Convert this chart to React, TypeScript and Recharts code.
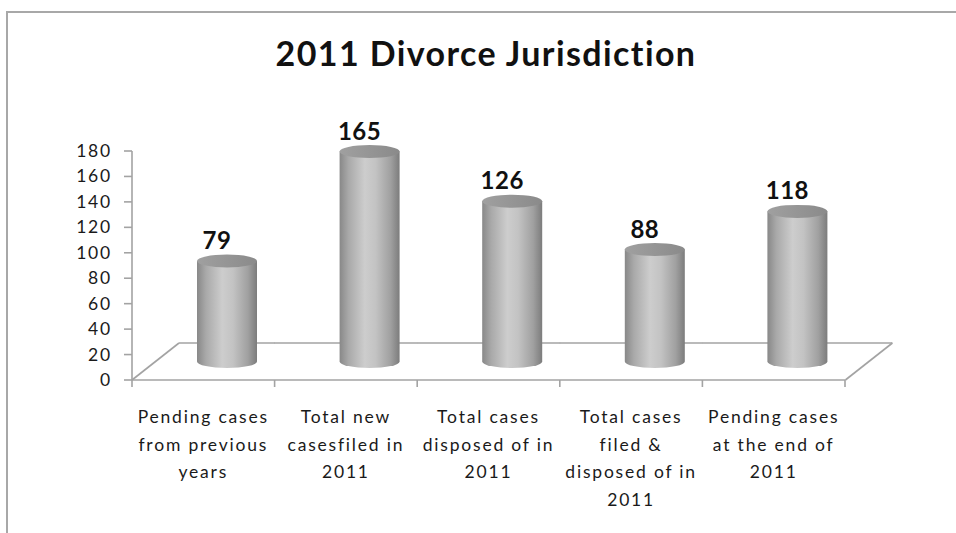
import React from 'react';
import { BarChart, Bar, XAxis, YAxis, LabelList } from 'recharts';

const title = '2011 Divorce Jurisdiction';
const categories = [
  'Pending cases\nfrom previous\nyears',
  'Total new\ncasesfiled in\n2011',
  'Total cases\ndisposed of in\n2011',
  'Total cases\nfiled &\ndisposed of in\n2011',
  'Pending cases\nat the end of\n2011',
];
const values = [79, 165, 126, 88, 118];
const yTicks = [0, 20, 40, 60, 80, 100, 120, 140, 160, 180];

const data = categories.map((name, i) => ({ name, value: values[i] }));

const AXIS = '#a3a3a3';
const DX = 47;
const DY = 37;
const FONT = 'Lato, "Open Sans", sans-serif';

const Cylinder = (props: any) => {
  const { x, y, width, height, index } = props;
  const base = y + height;
  const cx = x + width / 2 + DX / 2;
  const rx = 30;
  const ry = 6.5;
  const topY = y - DY / 2;
  const botY = base - DY / 2;
  const n = values.length;
  const backY = base - DY;
  const bx1 = index === 0 ? x + DX : x;
  const bx2 = index === n - 1 ? x + width + DX : x + width;
  const bid = `cylBody${index}`;
  const tid = `cylTop${index}`;
  return (
    <g>
      <defs>
        <linearGradient id={bid} x1="0" y1="0" x2="1" y2="0">
          <stop offset="0%" stopColor="#888888" />
          <stop offset="15%" stopColor="#a9a9a9" />
          <stop offset="42%" stopColor="#cdcdcd" />
          <stop offset="60%" stopColor="#c3c3c3" />
          <stop offset="85%" stopColor="#a0a0a0" />
          <stop offset="100%" stopColor="#7c7c7c" />
        </linearGradient>
        <linearGradient id={tid} x1="0" y1="0" x2="1" y2="0">
          <stop offset="0%" stopColor="#a0a0a0" />
          <stop offset="100%" stopColor="#8a8a8a" />
        </linearGradient>
      </defs>
      <line x1={bx1} y1={backY} x2={bx2} y2={backY} stroke={AXIS} strokeWidth={1.6} />
      {index === 0 && (
        <line x1={x} y1={base} x2={x + DX} y2={backY} stroke={AXIS} strokeWidth={1.6} />
      )}
      {index === n - 1 && (
        <line x1={x + width} y1={base} x2={x + width + DX} y2={backY} stroke={AXIS} strokeWidth={1.6} />
      )}
      <path
        d={`M${cx - rx},${topY} L${cx - rx},${botY} A${rx},${ry} 0 0 0 ${cx + rx},${botY} L${cx + rx},${topY} Z`}
        fill={`url(#${bid})`}
      />
      <ellipse cx={cx} cy={topY} rx={rx} ry={ry} fill={`url(#${tid})`} />
    </g>
  );
};

const ValueLabel = (props: any) => {
  const { x, y, width, value } = props;
  return (
    <text
      x={x + width / 2 + DX / 2 - 10}
      y={y - DY / 2 - 12}
      textAnchor="middle"
      fontFamily={FONT}
      fontWeight="bold"
      fontSize={24}
      letterSpacing={0.5}
      fill="#111"
    >
      {value}
    </text>
  );
};

const XTick = (props: any) => {
  const { x, y, payload, index } = props;
  const off = payload && typeof payload.offset === 'number' && payload.offset > 0 ? payload.offset : 71.3;
  const lines = String(payload.value).split('\n');
  return (
    <g>
      <line x1={x - off} y1={y} x2={x - off} y2={y + 7} stroke={AXIS} strokeWidth={1.6} />
      {index === categories.length - 1 && (
        <line x1={x + off} y1={y} x2={x + off} y2={y + 7} stroke={AXIS} strokeWidth={1.6} />
      )}
      <text textAnchor="middle" fontFamily={FONT} fontSize={17.5} letterSpacing={1.8} fill="#1a1a1a">
        {lines.map((l, i) => (
          <tspan key={i} x={x} y={y + 43 + i * 27.5}>
            {l}
          </tspan>
        ))}
      </text>
    </g>
  );
};

const YTick = (props: any) => {
  const { x, y, payload } = props;
  return (
    <text x={x} y={y + 6} textAnchor="end" fontFamily={FONT} fontSize={17.5} letterSpacing={1.8} fill="#1a1a1a">
      {payload.value}
    </text>
  );
};

export default function App() {
  return (
    <div style={{ position: 'absolute', left: 0, top: 0, width: 956, height: 533, background: '#fff', overflow: 'hidden' }}>
      <div
        style={{
          position: 'absolute',
          left: 6,
          top: 11,
          width: 980,
          height: 560,
          borderLeft: '2px solid #a8a8a8',
          borderTop: '2px solid #a8a8a8',
        }}
      />
      <div
        style={{
          position: 'absolute',
          left: 8,
          top: 33,
          width: 956,
          textAlign: 'center',
          fontFamily: FONT,
          fontWeight: 'bold',
          fontSize: 34,
          letterSpacing: 1.4,
          lineHeight: '40px',
          color: '#111',
        }}
      >
        {title}
      </div>
      <div style={{ position: 'absolute', left: 0, top: 0 }}>
        <BarChart
          width={956}
          height={533}
          data={data}
          margin={{ top: 151, right: 111, bottom: 3, left: 0 }}
          barCategoryGap={0}
        >
          <XAxis
            dataKey="name"
            height={150}
            interval={0}
            tickLine={false}
            tickSize={0}
            tickMargin={0}
            axisLine={{ stroke: AXIS, strokeWidth: 1.6 }}
            tick={<XTick />}
          />
          <YAxis
            width={132}
            domain={[0, 180]}
            ticks={yTicks}
            interval={0}
            tickSize={8}
            tickMargin={12}
            axisLine={{ stroke: AXIS, strokeWidth: 1.6 }}
            tickLine={{ stroke: AXIS, strokeWidth: 1.6 }}
            tick={<YTick />}
          />
          <Bar dataKey="value" isAnimationActive={false} shape={<Cylinder />}>
            <LabelList dataKey="value" content={<ValueLabel />} />
          </Bar>
        </BarChart>
      </div>
    </div>
  );
}
